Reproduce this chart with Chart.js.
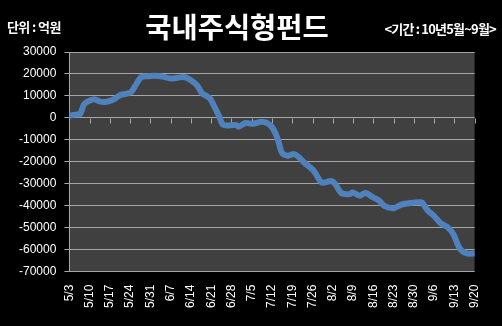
<!DOCTYPE html>
<html>
<head>
<meta charset="utf-8">
<script src="https://cdn.jsdelivr.net/npm/chart.js@4/dist/chart.umd.min.js"></script>
<style>
  html, body { margin: 0; padding: 0; background: #000; }
  #wrap { position: relative; width: 502px; height: 326px; overflow: hidden; background: #000; }
  #chartCanvas { position: absolute; left: 0; top: 0; }
  .txt { position: absolute; color: #fff; font-weight: bold; white-space: nowrap; font-family: "Noto Sans CJK KR", "Noto Sans", sans-serif; }
  #unit { left: 7px; top: 17px; font-size: 13px; letter-spacing: -0.6px; }
  #title { left: 0; width: 474px; text-align: center; top: 5px; font-size: 28.5px; }
  #period { right: 6px; top: 19px; font-size: 13px; letter-spacing: -0.8px; }
</style>
</head>
<body>
<div id="wrap">
  <canvas id="chartCanvas" width="502" height="326"></canvas>
  <div class="txt" id="unit">단위 : 억원</div>
  <div class="txt" id="title">국내주식형펀드</div>
  <div class="txt" id="period">&lt;기간 : 10년5월~9월&gt;</div>
</div>
<script>
// weekly tick labels, one per 7 days starting 5/3
const tickLabels = ['5/3', '5/10', '5/17', '5/24', '5/31', '6/7', '6/14', '6/21', '6/28', '7/5',
  '7/12', '7/19', '7/26', '8/2', '8/9', '8/16', '8/23', '8/30', '9/6', '9/13', '9/20'];

// days since 5/3
const dayOffsets = [0, 2.0, 3.7, 5.0, 6.4, 8.7, 10.4, 12.1, 13.8, 15.5, 16.5, 17.8, 19.9, 21.5,
  22.9, 24.9, 27.3, 29.6, 32.3, 35.0, 37.4, 39.7, 41.7, 44.1, 45.8, 48.5, 49.8, 51.8, 53.2,
  57.5, 58.5, 60.9, 63.3, 66.6, 69.3, 71.0, 72.3, 73.4, 75.4, 77.7, 79.4, 81.1, 84.5, 87.2,
  90.5, 91.9, 93.9, 96.9, 97.9, 100.3, 102.3, 104.7, 107.0, 109.0, 112.1, 114.7, 118.1,
  120.8, 121.8, 123.8, 125.9, 128.2, 130.6, 132.6, 134.9, 137.3, 140];

// cumulative net flow (억원)
const fundFlow = [1000, 1500, 1800, 6000, 7500, 8500, 7500, 7200, 7600, 8500, 9500, 10500, 11000, 12000,
  14900, 18600, 19000, 19200, 18800, 17900, 18300, 18600, 17400, 14900, 11300, 9000, 5900, 600, -3200,
  -3200, -4000, -2300, -2700, -1800, -3200, -6500, -11000, -15800, -17200, -16500, -18000, -20300, -24200, -29400,
  -28700, -30200, -34200, -34700, -33900, -35400, -34200, -36000, -37700, -40200, -41100, -39500, -38700,
  -38400, -38500, -42200, -44500, -47900, -49700, -52700, -59500, -61700, -61700];

const gridColor = '#a6a6a6';

// gray plot area behind the line
const plotBackground = {
  id: 'plotBackground',
  beforeDraw(chart) {
    const { ctx, chartArea } = chart;
    ctx.save();
    ctx.fillStyle = '#404040';
    ctx.fillRect(chartArea.left, chartArea.top, chartArea.right - chartArea.left, chartArea.bottom - chartArea.top);
    ctx.restore();
  }
};

// small tick marks hanging under the zero line
const zeroTicks = {
  id: 'zeroTicks',
  beforeDatasetsDraw(chart) {
    const { ctx, scales } = chart;
    const y0 = Math.round(scales.y.getPixelForValue(0)) + 0.5;
    ctx.save();
    ctx.strokeStyle = gridColor;
    ctx.lineWidth = 1;
    ctx.beginPath();
    scales.x.ticks.forEach((t) => {
      const x = Math.round(scales.x.getPixelForValue(t.value)) + 0.5;
      ctx.moveTo(x, y0);
      ctx.lineTo(x, y0 + 5);
    });
    ctx.stroke();
    ctx.restore();
  }
};

const points = dayOffsets.map((d, i) => ({ x: d, y: fundFlow[i] }));

new Chart(document.getElementById('chartCanvas'), {
  type: 'line',
  data: {
    datasets: [{
      data: points,
      borderColor: '#4f81bd',
      borderWidth: 6,
      pointRadius: 0,
      tension: 0.3,
      borderCapStyle: 'round',
      borderJoinStyle: 'round',
      fill: false
    }]
  },
  options: {
    responsive: false,
    animation: false,
    devicePixelRatio: 1,
    layout: { padding: { left: 11, right: 14, top: 52, bottom: 5 } },
    plugins: { legend: { display: false }, tooltip: { enabled: false } },
    scales: {
      x: {
        type: 'linear',
        min: 0,
        max: 140,
        afterBuildTicks(scale) {
          scale.ticks = tickLabels.map((_, i) => ({ value: i * 7 }));
        },
        grid: { display: false, drawTicks: false },
        border: { display: false },
        ticks: {
          autoSkip: false,
          minRotation: 90,
          maxRotation: 90,
          padding: 13,
          color: '#ffffff',
          font: { family: 'Liberation Sans', size: 12 },
          callback: (v) => tickLabels[Math.round(v / 7)]
        }
      },
      y: {
        min: -70000,
        max: 30000,
        ticks: {
          stepSize: 10000,
          padding: 8,
          color: '#ffffff',
          font: { family: 'Liberation Sans', size: 12 },
          callback: (v) => String(v)
        },
        grid: { color: gridColor, tickColor: gridColor, tickLength: 5 },
        border: { display: true, color: gridColor }
      }
    }
  },
  plugins: [plotBackground, zeroTicks]
});
</script>
</body>
</html>
